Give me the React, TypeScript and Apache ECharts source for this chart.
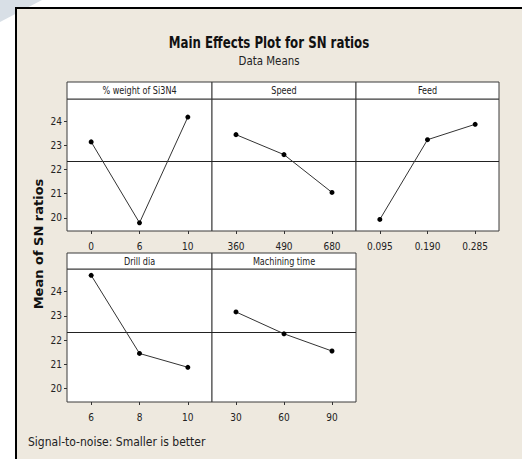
import React, { useEffect, useRef } from "react";
import * as echarts from "echarts";

const factors = ["% weight of Si3N4", "Speed", "Feed", "Drill dia", "Machining time"];
const levels: string[][] = [
  ["0", "6", "10"],
  ["360", "490", "680"],
  ["0.095", "0.190", "0.285"],
  ["6", "8", "10"],
  ["30", "60", "90"],
];
const weightMeans = [23.15, 19.79, 24.18];
const speedMeans = [23.45, 22.62, 21.05];
const feedMeans = [19.93, 23.24, 23.88];
const drillMeans = [24.67, 21.45, 20.88];
const timeMeans = [23.16, 22.26, 21.55];
const seriesValues = [weightMeans, speedMeans, feedMeans, drillMeans, timeMeans];
const overallMean = 22.33;
const yTicks = [20, 21, 22, 23, 24];
const yMin = 19.45;
const yMax = 24.93;

const titleText = "Main Effects Plot for SN ratios";
const subtitleText = "Data Means";
const yAxisTitle = "Mean of SN ratios";
const footerText = "Signal-to-noise: Smaller is better";

const NARROW = '"Liberation Sans Narrow", "DejaVu Sans Condensed", "Roboto", sans-serif';

// panel layout (left, top of plot, width, height, header top)
const panels = [
  { l: 67, t: 99, w: 145, h: 132, ht: 82 },
  { l: 212, t: 99, w: 144, h: 132, ht: 82 },
  { l: 356, t: 99, w: 143, h: 132, ht: 82 },
  { l: 67, t: 269, w: 145, h: 133, ht: 253 },
  { l: 212, t: 269, w: 144, h: 133, ht: 253 },
];

export default function App() {
  const ref = useRef<HTMLDivElement>(null);
  useEffect(() => {
    if (!ref.current) return;
    const chart = echarts.init(ref.current, undefined, { renderer: "svg" });
    const grid = panels.map((p) => ({
      left: p.l,
      top: p.t,
      width: p.w,
      height: p.h,
      show: true,
      backgroundColor: "#ffffff",
      borderColor: "#3a3a3a",
      borderWidth: 1,
      containLabel: false,
    }));
    const xAxis = panels.map((p, i) => ({
      type: "category",
      gridIndex: i,
      data: levels[i],
      boundaryGap: true,
      axisLine: { show: false },
      axisTick: { show: true, alignWithLabel: true, length: 3, lineStyle: { color: "#333" } },
      axisLabel: { color: "#222", fontSize: 10, fontFamily: NARROW, margin: 10 },
      splitLine: { show: false },
    }));
    const yAxis = panels.map((p, i) => {
      const showLab = i === 0 || i === 3;
      return {
        type: "value",
        gridIndex: i,
        min: yMin,
        max: yMax,
        axisLine: { show: false },
        axisTick: { show: showLab, length: 3, customValues: yTicks, lineStyle: { color: "#333" } },
        axisLabel: { show: showLab, color: "#222", fontSize: 10, fontFamily: NARROW, margin: 5, customValues: yTicks },
        splitLine: { show: false },
      };
    });
    const series = panels.map((p, i) => ({
      type: "line",
      xAxisIndex: i,
      yAxisIndex: i,
      data: seriesValues[i],
      symbol: "circle",
      symbolSize: 5,
      lineStyle: { color: "#333", width: 1 },
      itemStyle: { color: "#000" },
      z: 5,
      markLine: {
        silent: true,
        symbol: "none",
        label: { show: false },
        lineStyle: { color: "#222", width: 1, type: "solid" },
        data: [{ yAxis: overallMean }],
      },
    }));
    const graphic: any[] = [
      { type: "polygon", shape: { points: [[0, 0], [42, 0], [0, 22]] }, style: { fill: "#d8dfe6" }, z: -20 },
      {
        type: "rect",
        shape: { x: 16, y: 8, width: 530, height: 480 },
        style: { fill: "#eee9df", stroke: "#000", lineWidth: 2 },
        z: -10,
      },
      {
        type: "text",
        x: 269,
        y: 42,
        scaleX: 0.82,
        style: { text: titleText, fontSize: 16, fontWeight: "bold", fontFamily: NARROW, fill: "#111", align: "center", verticalAlign: "middle" },
      },
      {
        type: "text",
        x: 269,
        y: 61,
        scaleX: 0.95,
        style: { text: subtitleText, fontSize: 12, fontFamily: NARROW, fill: "#222", align: "center", verticalAlign: "middle" },
      },
      {
        type: "text",
        x: 38.5,
        y: 244,
        rotation: Math.PI / 2,
        style: { text: yAxisTitle, fontSize: 13, fontWeight: "bold", fontFamily: '"DejaVu Sans", sans-serif', fill: "#111", align: "center", verticalAlign: "middle" },
      },
      {
        type: "text",
        x: 28,
        y: 442,
        style: { text: footerText, fontSize: 12, fontFamily: NARROW, fill: "#222", align: "left", verticalAlign: "middle" },
      },
    ];
    panels.forEach((p, i) => {
      graphic.push({
        type: "rect",
        shape: { x: p.l, y: p.ht, width: p.w, height: p.t - p.ht },
        style: { fill: "#ffffff", stroke: "#3a3a3a", lineWidth: 1 },
        z: 1,
      });
      graphic.push({
        type: "text",
        x: p.l + p.w / 2,
        y: (p.ht + p.t) / 2,
        scaleX: 0.9,
        style: { text: factors[i], fontSize: 10, fontFamily: NARROW, fill: "#222", align: "center", verticalAlign: "middle" },
        z: 2,
      });
    });
    chart.setOption({
      animation: false,
      backgroundColor: "#ffffff",
      grid,
      xAxis,
      yAxis,
      series,
      graphic,
    });
    return () => chart.dispose();
  }, []);
  return <div ref={ref} style={{ position: "absolute", left: 0, top: 0, width: 522, height: 459 }} />;
}
